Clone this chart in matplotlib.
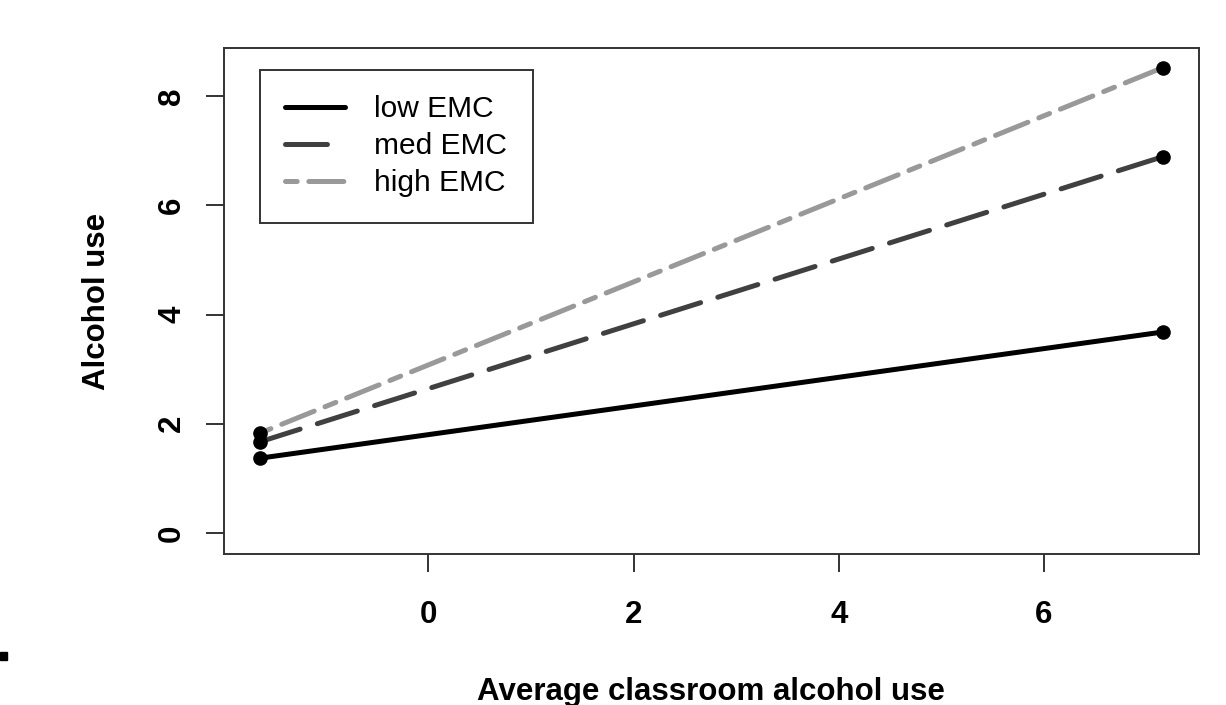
import matplotlib
matplotlib.use("Agg")
import matplotlib.pyplot as plt
from matplotlib.patches import Rectangle

# values
classroom_use = [-1.64, 7.16]
low_emc = [1.37, 3.68]
med_emc = [1.67, 6.89]
high_emc = [1.83, 8.52]
series_labels = ["low EMC", "med EMC", "high EMC"]
x_ticks = [0, 2, 4, 6]
y_ticks = [0, 2, 4, 6, 8]

plt.rcParams['font.family'] = ['Liberation Sans', 'DejaVu Sans']
plt.rcParams['lines.scale_dashes'] = False

W, H = 1226, 705
fig = plt.figure(figsize=(W / 100, H / 100), dpi=100)
ax = fig.add_axes([224 / W, 1 - 554 / H, (1199 - 224) / W, (554 - 48) / H])

lw = 3.6
ax.plot(classroom_use, low_emc, color='black', lw=lw, solid_capstyle='round',
        label=series_labels[0])
ax.plot(classroom_use, med_emc, color='#404040', lw=lw, dashes=(30.2, 13.0),
        dash_capstyle='round', label=series_labels[1])
ax.plot(classroom_use, high_emc, color='#999999', lw=lw, dashes=(8.4, 8.4, 25.2, 8.4),
        dash_capstyle='round', label=series_labels[2])

# end points
for ys in (low_emc, med_emc, high_emc):
    ax.plot(classroom_use, ys, ls='none', marker='o', ms=9.5, color='black', zorder=5)

ax.set_xlim(-1.992, 7.512)
ax.set_ylim(-0.385, 8.88)
ax.set_xticks(x_ticks)
ax.set_xticklabels([str(t) for t in x_ticks], fontsize=22.5, fontweight='bold')
ax.set_yticks(y_ticks)
ax.set_yticklabels([str(t) for t in y_ticks], fontsize=22.5, fontweight='bold',
                   rotation=90, va='center')
ax.tick_params(length=13, width=1.4, color='#333333')
ax.tick_params(axis='x', pad=20)
ax.tick_params(axis='y', pad=13.5)

for s in ax.spines.values():
    s.set_linewidth(1.4)
    s.set_color('#333333')

fig.text(711 / W, 1 - 700 / H, "Average classroom alcohol use", ha='center',
         va='baseline', fontsize=22.5, fontweight='bold')
fig.text(97 / W, 1 - 301 / H, "Alcohol use", ha='center', va='center',
         rotation=90, fontsize=22.5, fontweight='bold')

leg = ax.legend(loc='upper left', bbox_to_anchor=(260 / W, 1 - 70 / H),
                bbox_transform=fig.transFigure, borderaxespad=0, fontsize=21.5,
                handlelength=1.98, handletextpad=1.0, borderpad=0.85,
                labelspacing=0.30, fancybox=False, framealpha=1)
leg.get_frame().set_edgecolor('#333333')
leg.get_frame().set_linewidth(1.4)

# small mark at the left edge of the reference image
fig.patches.append(Rectangle((0, 1 - 660 / H), 7 / W, 8 / H,
                             transform=fig.transFigure, color='black'))

fig.savefig('out.png', dpi=100)
